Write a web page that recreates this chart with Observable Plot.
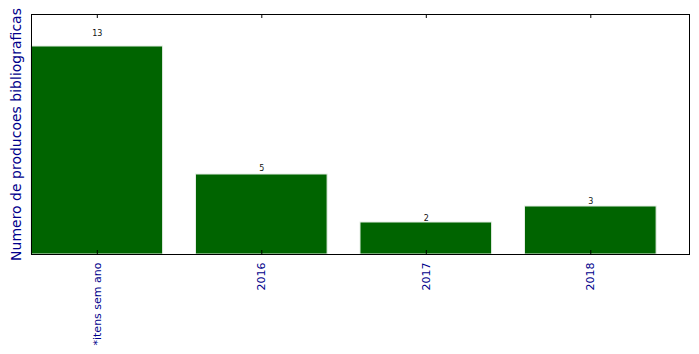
<!DOCTYPE html>
<html>
<head>
<meta charset="utf-8">
<script src="https://cdn.jsdelivr.net/npm/d3@7"></script>
<script src="https://cdn.jsdelivr.net/npm/@observablehq/plot@0.6"></script>
<style>
  html, body { margin: 0; padding: 0; background: #fff; }
  #chart svg { display: block; }
</style>
</head>
<body>
<div id="chart"></div>
<script>
const categories = ["*itens sem ano", "2016", "2017", "2018"];
const counts = [13, 5, 2, 3];
const yLabel = "Numero de producoes bibliograficas";

const data = categories.map((c, i) => ({category: c, count: counts[i]}));

const chart = Plot.plot({
  width: 699,
  height: 354,
  marginLeft: 31,
  marginRight: 10,
  marginTop: 14,
  marginBottom: 100,
  style: {fontFamily: "DejaVu Sans", background: "#fff"},
  x: {type: "band", domain: categories, paddingInner: 0.2, paddingOuter: 0.1, align: 0, round: false},
  y: {domain: [0, 15]},
  marks: [
    Plot.barY(data, {x: "category", y: "count", fill: "#006400", stroke: "#e4ede4", strokeWidth: 1}),
    Plot.text(data, {x: "category", y: d => d.count * 1.05, text: d => String(d.count), lineAnchor: "bottom", fontSize: 8, fill: "#111"}),
    Plot.ruleX(categories, {x: d => d, y1: 0, y2: 0.25, stroke: "black"}),
    Plot.ruleX(categories, {x: d => d, y1: 15, y2: 14.75, stroke: "black"}),
    Plot.frame({stroke: "black", strokeWidth: 1}),
    Plot.axisX({tickSize: 0, tickRotate: -90, tickPadding: 8, fontSize: 11, fill: "darkblue", label: null}),
    Plot.axisY({ticks: [], tickSize: 0, label: null}),
    Plot.text([yLabel], {frameAnchor: "left", dx: -15, rotate: -90, text: d => d, fontSize: 14, fill: "darkblue", textAnchor: "middle"})
  ]
});
document.getElementById("chart").appendChild(chart);
</script>
</body>
</html>
